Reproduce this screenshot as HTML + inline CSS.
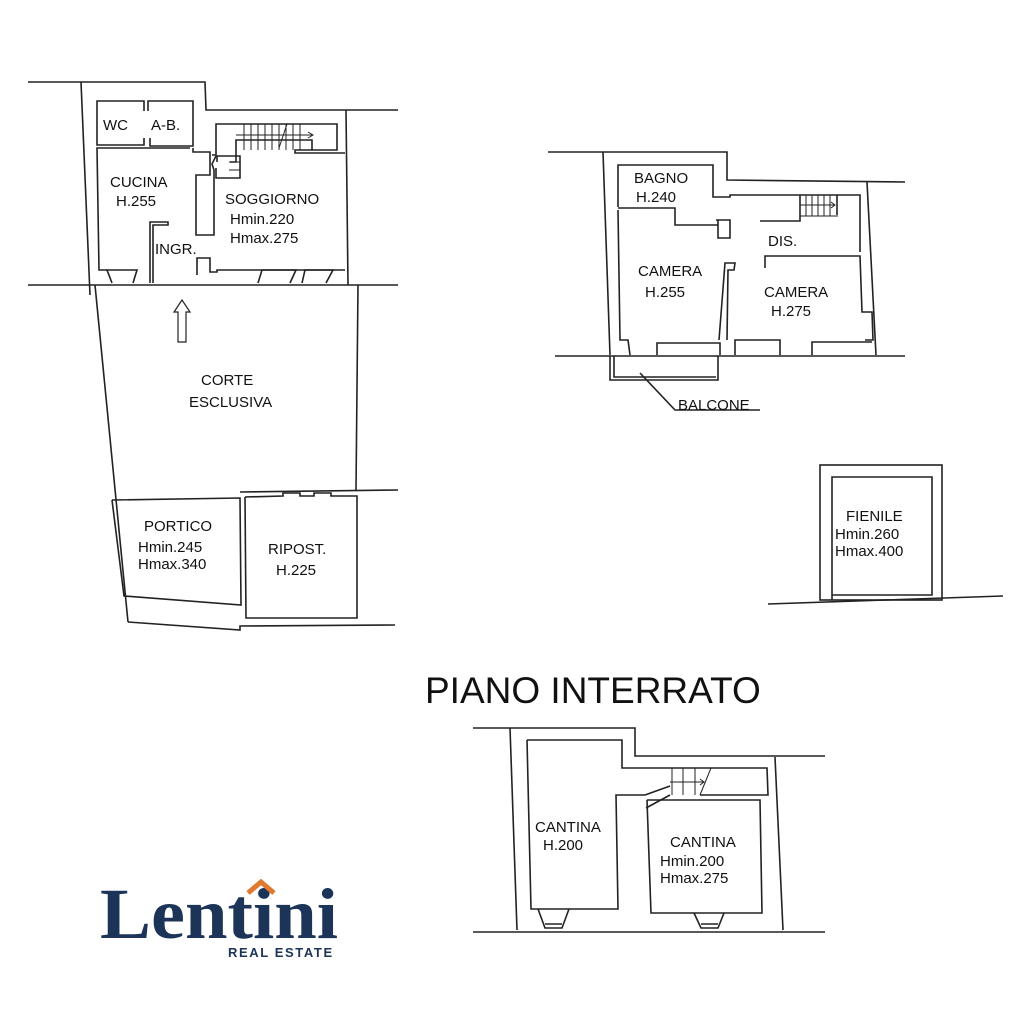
<!DOCTYPE html>
<html><head><meta charset="utf-8"><style>
html,body{margin:0;padding:0;background:#fff;width:1024px;height:1024px;overflow:hidden}
svg{display:block}
text{font-family:"Liberation Sans",Arial,sans-serif;fill:#111}
</style></head><body>
<svg width="1024" height="1024" viewBox="0 0 1024 1024" xmlns="http://www.w3.org/2000/svg">
<g fill="none" stroke="#222" stroke-width="1.6">
<polyline points="28,82 205,82 206,110 398,110"/>
<line x1="81" y1="82" x2="90" y2="295"/>
<line x1="346" y1="110" x2="348" y2="285"/>
<line x1="28" y1="285" x2="398" y2="285"/>
<polyline points="144,111 144,101 97,101 97,145 144,145 144,138"/>
<polyline points="148,111 148,101 193,101 193,146 150,146 150,138"/>
<polyline points="190,148 97,148 99,270 107,270"/>
<polyline points="112,283 107,270 137,270 133,283"/>
<polyline points="150,283 150,222 168,222 168,225 153,225 153,283"/>
<polyline points="193,148 193,152 210,152 210,175 196,175 196,235 206,235 214,235 214,170 212,164 216,156"/>
<polyline points="212,155 216,155 216,124 337,124 337,150 295,150 295,153 345,153"/>
<polyline points="217,162 217,156 240,156 240,178 216,178 216,168"/>
<polyline points="197,275 197,258 210,258 210,272 217,272 217,270 345,270"/>
<polyline points="258,283 262,270 296,270 290,283"/>
<polyline points="302,283 305,270 333,270 326,283"/>
<polyline points="230,162 236,162 236,140 312,140 312,150"/>
<g stroke-width="1">
<line x1="244" y1="124" x2="244" y2="150"/><line x1="251" y1="124" x2="251" y2="150"/>
<line x1="258" y1="124" x2="258" y2="150"/><line x1="265" y1="124" x2="265" y2="150"/>
<line x1="272" y1="124" x2="272" y2="150"/><line x1="279" y1="124" x2="279" y2="150"/>
<line x1="286" y1="124" x2="286" y2="150"/><line x1="293" y1="124" x2="293" y2="150"/>
<line x1="300" y1="124" x2="300" y2="150"/>
<line x1="236" y1="135" x2="312" y2="135"/>
<polyline points="308,132 313,135 308,138"/>
<line x1="279" y1="148" x2="287" y2="124"/>
<line x1="229" y1="162" x2="240" y2="162"/>
<line x1="229" y1="170" x2="240" y2="170"/>
</g>
<polygon points="182,300 190,312 186,312 186,342 178,342 178,312 174,312" stroke-width="1.2"/>
<line x1="95" y1="285" x2="128" y2="622"/>
<line x1="358" y1="285" x2="356" y2="490"/>
<line x1="240" y1="492" x2="398" y2="490"/>
<polyline points="112,500 240,498 241,605 124,596 112,500"/>
<polyline points="245,497 283,496 283,493 300,493 300,496 314,496 314,493 331,493 331,496 357,496 357,618 246,618 245,497"/>
<polyline points="128,622 240,630 240,626 395,625"/>
<polyline points="548,152 727,152 727,180 905,182"/>
<line x1="603" y1="152" x2="610" y2="355"/>
<line x1="867" y1="182" x2="876" y2="355"/>
<line x1="555" y1="356" x2="905" y2="356"/>
<polyline points="618,207 618,165 713,165 713,197 730,197 730,195 860,195 860,250 860,252"/>
<polyline points="618,208 675,208 675,225 718,225"/>
<polyline points="716,220 730,220 730,238 718,238 718,220"/>
<polyline points="618,210 620,340 628,340 630,355"/>
<polyline points="657,355 657,343 720,343 720,355"/>
<polyline points="719,340 725,263 735,263 734,270 728,270 727,340"/>
<polyline points="760,221 800,221 800,215 800,195"/>
<polyline points="765,268 765,256 860,256 862,312 872,312 873,340 865,340"/>
<polyline points="735,355 735,340 780,340 780,355"/>
<polyline points="812,355 812,342 872,342"/>
<line x1="837" y1="195" x2="837" y2="215"/>
<g stroke-width="1">
<line x1="800" y1="216" x2="838" y2="216"/>
<line x1="806" y1="195" x2="806" y2="216"/><line x1="812" y1="195" x2="812" y2="216"/>
<line x1="818" y1="195" x2="818" y2="216"/><line x1="824" y1="195" x2="824" y2="216"/>
<line x1="830" y1="195" x2="830" y2="216"/>
<line x1="800" y1="205" x2="834" y2="205"/><polyline points="831,202 835,205 831,208"/>
</g>
<polyline points="610,356 610,380 718,380 718,356"/>
<polyline points="614,356 614,377 716,377"/>
<polyline points="640,373 675,410 760,410"/>
<rect x="820" y="465" width="122" height="135"/>
<polyline points="832,600 832,477 932,477 932,595 832,595"/>
<line x1="768" y1="604" x2="1003" y2="596"/>
<polyline points="473,728 635,728 635,756 825,756"/>
<line x1="510" y1="728" x2="517" y2="930"/>
<line x1="775" y1="757" x2="783" y2="930"/>
<line x1="473" y1="932" x2="825" y2="932"/>
<polyline points="527,740 622,740 622,768 767,768 768,795 700,795"/>
<polyline points="527,740 531,909 618,909 616,795 645,795"/>
<polyline points="647,800 760,800 762,913 651,913 647,800"/>
<line x1="645" y1="795" x2="670" y2="786"/>
<line x1="646" y1="808" x2="670" y2="795"/>
<g stroke-width="1">
<line x1="672" y1="768" x2="672" y2="795"/><line x1="683" y1="768" x2="683" y2="795"/>
<line x1="695" y1="768" x2="695" y2="795"/>
<line x1="670" y1="782" x2="704" y2="782"/><polyline points="700,779 704,782 700,785"/>
<line x1="700" y1="795" x2="711" y2="768"/>
</g>
<polyline points="538,909 545,928 562,928 569,909"/>
<line x1="545" y1="924" x2="562" y2="924"/>
<polyline points="694,913 701,928 718,928 724,913"/>
<line x1="701" y1="924" x2="718" y2="924"/>
</g>
<g font-size="15">
<text x="103" y="130">WC</text><text x="151" y="130">A-B.</text>
<text x="110" y="187">CUCINA</text><text x="116" y="206">H.255</text>
<text x="225" y="204">SOGGIORNO</text><text x="230" y="224">Hmin.220</text><text x="230" y="243">Hmax.275</text>
<text x="155" y="254">INGR.</text>
<text x="201" y="385">CORTE</text><text x="189" y="407">ESCLUSIVA</text>
<text x="144" y="531">PORTICO</text><text x="138" y="552">Hmin.245</text><text x="138" y="569">Hmax.340</text>
<text x="268" y="554">RIPOST.</text><text x="276" y="575">H.225</text>
<text x="634" y="183">BAGNO</text><text x="636" y="202">H.240</text>
<text x="768" y="246">DIS.</text>
<text x="638" y="276">CAMERA</text><text x="645" y="297">H.255</text>
<text x="764" y="297">CAMERA</text><text x="771" y="316">H.275</text>
<text x="678" y="410">BALCONE</text>
<text x="846" y="521">FIENILE</text><text x="835" y="539">Hmin.260</text><text x="835" y="556">Hmax.400</text>
<text x="535" y="832">CANTINA</text><text x="543" y="850">H.200</text>
<text x="670" y="847">CANTINA</text><text x="660" y="866">Hmin.200</text><text x="660" y="883">Hmax.275</text>
</g>
<text x="425" y="703" font-size="37">PIANO INTERRATO</text>
<text x="100" y="938" style="font-family:'Liberation Serif','DejaVu Serif',serif;font-size:72px;font-weight:bold;fill:#1c3458" textLength="238" lengthAdjust="spacingAndGlyphs">Lentini</text>
<polyline points="248,893 261,882 274,893" fill="none" stroke="#e07a2e" stroke-width="5"/>
<text x="228" y="957" font-size="13" font-weight="bold" letter-spacing="1.6" style="fill:#1c3458">REAL ESTATE</text>
</svg>
</body></html>
